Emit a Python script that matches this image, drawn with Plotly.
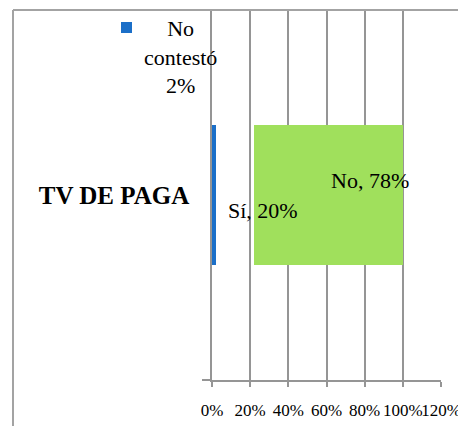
import plotly.graph_objects as go

categories = ["TV DE PAGA"]
series_names = ["No contestó", "Sí", "No"]
values_no_contesto = [0.02]
values_si = [0.20]
values_no = [0.78]
x_tick_vals = [0, 0.2, 0.4, 0.6, 0.8, 1.0, 1.2]
x_tick_text = ["0%", "20%", "40%", "60%", "80%", "100%", "120%"]

# page has an 8px body margin, so the figure is drawn 8px smaller and offset
OFF = 8
W, H = 466 - OFF, 426 - OFF
ML, MR, MT, MB = 212 - OFF, 25, 10 - OFF, 426 - 380
PW, PH = W - ML - MR, H - MT - MB

BLUE = "#1B6FC8"
GREEN = "#A0E05C"
GRID = "#959595"
SERIF = "Liberation Serif"

fig = go.Figure()
fig.add_trace(go.Bar(y=categories, x=values_no_contesto, name=series_names[0], orientation="h",
                     marker=dict(color=BLUE, line=dict(width=0)), width=0.38))
fig.add_trace(go.Bar(y=categories, x=values_si, name=series_names[1], orientation="h",
                     marker=dict(color="rgba(255,255,255,0)", line=dict(width=0)), width=0.38))
fig.add_trace(go.Bar(y=categories, x=values_no, name=series_names[2], orientation="h",
                     marker=dict(color=GREEN, line=dict(width=0)), width=0.38))

def pct(v):
    return f"{round(v * 100)}%"

start_nc = 0
start_si = values_no_contesto[0]
start_no = values_no_contesto[0] + values_si[0]
ann = [
    dict(x=start_nc + values_no_contesto[0] / 2, y=categories[0],
         text=f"No<br>contestó<br>{pct(values_no_contesto[0])}", xshift=-33, yshift=138),
    dict(x=start_si + values_si[0] / 2, y=categories[0],
         text=f"{series_names[1]}, {pct(values_si[0])}", xshift=28, yshift=-15),
    dict(x=start_no + values_no[0] / 2, y=categories[0],
         text=f"{series_names[2]}, {pct(values_no[0])}", xshift=42, yshift=15),
]
for a in ann:
    a.update(xref="x", yref="y", showarrow=False, align="center",
             font=dict(family=SERIF, size=22, color="#000"))

def px_to_paper_x(px):
    return (px - OFF - ML) / PW

def px_to_paper_y(py):
    return (MT + PH - (py - OFF)) / PH

shapes = [
    dict(type="line", xref="paper", yref="paper",
         x0=px_to_paper_x(13), x1=px_to_paper_x(13), y0=px_to_paper_y(10), y1=px_to_paper_y(440),
         line=dict(color="#a3a3a3", width=2)),
    dict(type="line", xref="paper", yref="paper",
         x0=px_to_paper_x(13), x1=px_to_paper_x(480), y0=px_to_paper_y(10), y1=px_to_paper_y(10),
         line=dict(color="#a3a3a3", width=2)),
    dict(type="rect", xref="paper", yref="paper",
         x0=px_to_paper_x(121), x1=px_to_paper_x(132), y0=px_to_paper_y(22), y1=px_to_paper_y(33),
         fillcolor=BLUE, line=dict(width=0)),
]

fig.update_layout(
    width=W, height=H,
    margin=dict(l=ML, r=MR, t=MT, b=MB, pad=0, autoexpand=False),
    paper_bgcolor="white", plot_bgcolor="white",
    barmode="stack", showlegend=False,
    annotations=ann, shapes=shapes,
    xaxis=dict(range=[0, 1.2], tickvals=x_tick_vals, ticktext=x_tick_text, tickangle=0,
               automargin=False,
               showgrid=True, gridcolor=GRID, gridwidth=1.5, zeroline=False,
               showline=True, linecolor=GRID, linewidth=1.5,
               ticks="outside", ticklen=5, tickcolor=GRID, tickwidth=1.5,
               tickfont=dict(family=SERIF, size=17, color="#000"),
               ticklabelstandoff=9, fixedrange=True),
    yaxis=dict(showgrid=False, zeroline=False, showline=True, linecolor=GRID, linewidth=1.5,
               automargin=False,
               ticks="outside", ticklen=8, tickcolor=GRID, tickwidth=1.5, tickson="boundaries",
               tickfont=dict(family=SERIF, size=25, color="#000", weight="bold"),
               ticklabelstandoff=16, fixedrange=True),
    font=dict(family=SERIF),
)
fig.update_traces(hoverinfo="skip")

fig.write_html("out.html", config={"displayModeBar": False})
